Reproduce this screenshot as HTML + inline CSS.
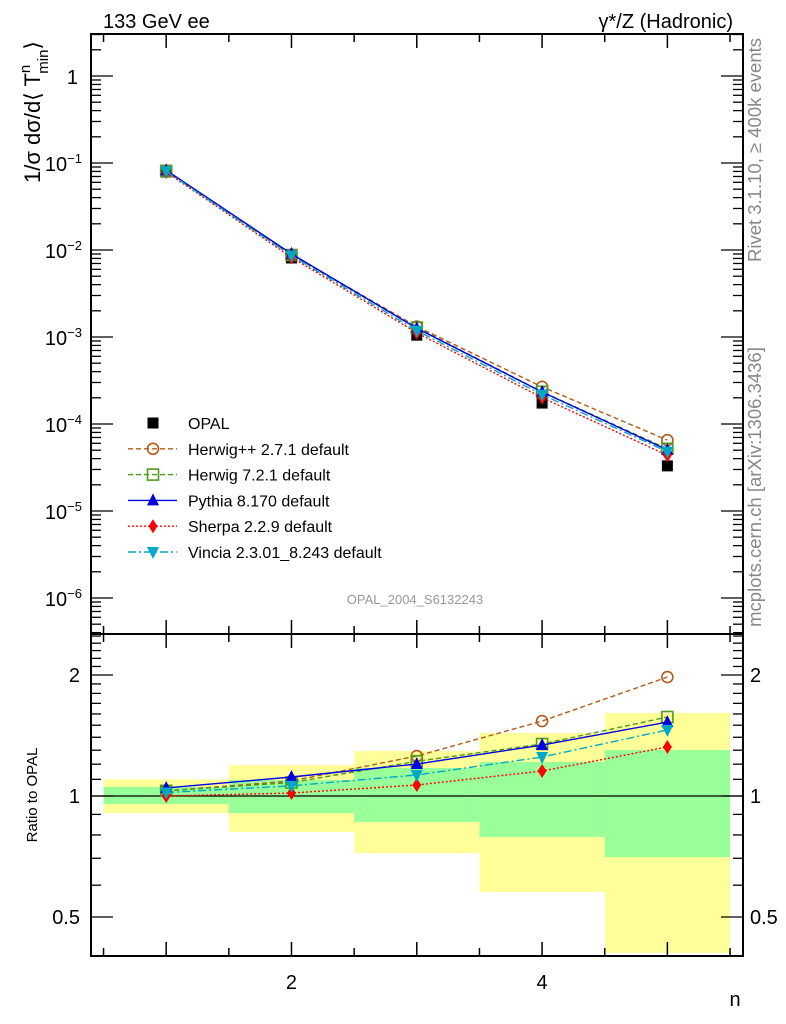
<!DOCTYPE html>
<html><head><meta charset="utf-8"><style>
html,body{margin:0;padding:0;background:#fff}
svg{display:block;font-family:"Liberation Sans",sans-serif}
</style></head><body>
<svg id="c" width="786" height="1024" viewBox="0 0 786 1024" xmlns="http://www.w3.org/2000/svg">
<text x="103" y="28" font-size="20">133 GeV ee</text>
<text x="733" y="28" font-size="20" text-anchor="end">γ*/Z (Hadronic)</text>
<text transform="translate(761,150) rotate(-90)" font-size="18.5" fill="#888" text-anchor="middle">Rivet 3.1.10, ≥ 400k events</text>
<text transform="translate(761,487) rotate(-90)" font-size="18.5" fill="#888" text-anchor="middle">mcplots.cern.ch [arXiv:1306.3436]</text>
<text x="415" y="604" font-size="13" fill="#999" text-anchor="middle">OPAL_2004_S6132243</text>
<text transform="translate(40,112) rotate(-90)" font-size="22" text-anchor="middle">1/σ dσ/d⟨ T<tspan font-size="15" dy="-10">n</tspan><tspan font-size="15" dy="18" dx="-9">min</tspan><tspan dy="-8">⟩</tspan></text>
<text transform="translate(37,795) rotate(-90)" font-size="15" text-anchor="middle">Ratio to OPAL</text>
<text x="735" y="1006" font-size="20" text-anchor="middle">n</text>
<g id="g"></g>
</svg>
<script>
const nVals=[1,2,3,4,5];
const opal=[0.0788,0.0081,0.00105,1.74e-4,3.3e-5];
const bandTotLo=[0.907,0.814,0.721,0.577,0.407];
const bandTotHi=[1.10,1.194,1.294,1.435,1.609];
const bandStatLo=[0.955,0.907,0.862,0.791,0.705];
const bandStatHi=[1.053,1.096,1.174,1.215,1.302];
const rHerwigPP=[1.03,1.09,1.257,1.536,1.976];
const rHerwig7=[1.03,1.08,1.22,1.347,1.572];
const rPythia=[1.047,1.115,1.201,1.339,1.527];
const rSherpa=[1.0,1.017,1.065,1.154,1.324];
const rVincia=[1.02,1.06,1.128,1.25,1.46];
const xTicks=[1,2,3,4,5];
const xTickLabels=["","2","","4",""];
const yTicksMain=[0,-1,-2,-3,-4,-5,-6];
const yTicksMainLabels=["1","10<tspan font-size='13' dy='-8'>−1</tspan>","10<tspan font-size='13' dy='-8'>−2</tspan>","10<tspan font-size='13' dy='-8'>−3</tspan>","10<tspan font-size='13' dy='-8'>−4</tspan>","10<tspan font-size='13' dy='-8'>−5</tspan>","10<tspan font-size='13' dy='-8'>−6</tspan>"];
const ratioTicks=[0.5,1,2];
const ratioTickLabels=["0.5","1","2"];

const L=91,R=743,T=34,M=634,B=956;
const X=n=>L+(n-0.4)*125.3;
const Y=v=>76-Math.log10(v)*87;
const RY=r=>796-Math.log10(r)*402;
const g=document.getElementById('g');
const NS="http://www.w3.org/2000/svg";
function el(t,a,p){const e=document.createElementNS(NS,t);for(const k in a)e.setAttribute(k,a[k]);(p||g).appendChild(e);return e;}

for(let i=0;i<nVals.length;i++){
 const x0=X(nVals[i]-0.5),x1=X(nVals[i]+0.5);
 const a=el('rect',{x:x0,y:RY(bandTotHi[i]),width:x1-x0,height:RY(bandTotLo[i])-RY(bandTotHi[i]),fill:'#ffff99'});
 
 
 const b=el('rect',{x:x0,y:RY(bandStatHi[i]),width:x1-x0,height:RY(bandStatLo[i])-RY(bandStatHi[i]),fill:'#99ff99'});
 
 
}
const one=el('line',{x1:L,x2:R,y1:RY(1),y2:RY(1),stroke:'#000','stroke-width':1.3});



for(const [y0,y1,nm] of [[T,M,'main-frame'],[M,B,'ratio-frame']]){
 const f=el('rect',{x:L,y:y0,width:R-L,height:y1-y0,fill:'none',stroke:'#000','stroke-width':2});
 
 
}
for(const [y0,y1] of [[T,M],[M,B]]){
 for(let k=0;k<=10;k++){const n=0.5+k*0.5;const x=X(n);const len=(n%1===0)?14:8;
  el('line',{x1:x,x2:x,y1:y1,y2:y1-len,stroke:'#000','stroke-width':1.5});
  el('line',{x1:x,x2:x,y1:y0,y2:y0+len,stroke:'#000','stroke-width':1.5});}
}
xTicks.forEach((n,i)=>{if(xTickLabels[i]){const t=el('text',{x:X(n),y:989,'font-size':20,'text-anchor':'middle'});t.textContent=xTickLabels[i];
 
 }});
for(let d=-7;d<=0;d++){for(let m=1;m<=9;m++){const v=m*Math.pow(10,d);const y=Y(v);if(y<T||y>M)continue;const len=m===1?22:10;
 el('line',{x1:L,x2:L+len,y1:y,y2:y,stroke:'#000','stroke-width':1.3});
 el('line',{x1:R,x2:R-len,y1:y,y2:y,stroke:'#000','stroke-width':1.3});}}
yTicksMain.forEach((d,i)=>{const t=el('text',{x:d===0?78:82,y:Y(Math.pow(10,d))+8,'font-size':20,'text-anchor':'end'});t.innerHTML=yTicksMainLabels[i];
 
 });
[0.4,0.5,0.6,0.7,0.8,0.9,1,1.1,1.2,1.3,1.4,1.5,1.6,1.7,1.8,1.9,2,2.1,2.2,2.3,2.4,2.5].forEach(r=>{const y=RY(r);if(y<M+2||y>B)return;const major=(r===0.5||r===1||r===2);const len=major?22:10;
 el('line',{x1:L,x2:L+len,y1:y,y2:y,stroke:'#000','stroke-width':1.3});
 el('line',{x1:R,x2:R-len,y1:y,y2:y,stroke:'#000','stroke-width':1.3});});
ratioTicks.forEach((r,i)=>{for(const [x,a] of [[80,'end'],[750,'start']]){const t=el('text',{x:x,y:RY(r)+7,'font-size':20,'text-anchor':a});t.textContent=ratioTickLabels[i];
 
 }});

const series=[
 {name:'herwigpp',label:'Herwig++ 2.7.1 default',r:rHerwigPP,c:'#b35a1a',dash:'5,3',m:'circle'},
 {name:'herwig7',label:'Herwig 7.2.1 default',r:rHerwig7,c:'#4c9c1c',dash:'5,3',m:'square'},
 {name:'pythia',label:'Pythia 8.170 default',r:rPythia,c:'#0000e0',dash:'',m:'tri'},
 {name:'sherpa',label:'Sherpa 2.2.9 default',r:rSherpa,c:'#ff0000',dash:'2,2',m:'diamond'},
 {name:'vincia',label:'Vincia 2.3.01_8.243 default',r:rVincia,c:'#00a8c8',dash:'8,3,2,3',m:'tridown'}];
function marker(type,x,y,c,p){
 if(type==='circle')return el('circle',{cx:x,cy:y,r:5.5,fill:'none',stroke:c,'stroke-width':1.6},p);
 if(type==='square')return el('rect',{x:x-5.5,y:y-5.5,width:11,height:11,fill:'none',stroke:c,'stroke-width':1.6},p);
 if(type==='tri')return el('polygon',{points:`${x},${y-7} ${x-6},${y+5} ${x+6},${y+5}`,fill:c},p);
 if(type==='tridown')return el('polygon',{points:`${x},${y+7} ${x-6},${y-5} ${x+6},${y-5}`,fill:c},p);
 if(type==='diamond')return el('polygon',{points:`${x},${y-7} ${x-4.5},${y} ${x},${y+7} ${x+4.5},${y}`,fill:c},p);
 if(type==='sq')return el('rect',{x:x-5.5,y:y-5.5,width:11,height:11,fill:c},p);
}
opal.forEach((v,i)=>{const m=marker('sq',X(nVals[i]),Y(v),'#000');
 
 });
series.forEach(s=>{
 const mainPts=nVals.map((n,i)=>X(n)+','+Y(opal[i]*s.r[i])).join(' ');
 const pl=el('polyline',{points:mainPts,fill:'none',stroke:s.c,'stroke-width':1.4,'stroke-dasharray':s.dash});
 
 
 const rPts=nVals.map((n,i)=>X(n)+','+RY(s.r[i])).join(' ');
 const rl=el('polyline',{points:rPts,fill:'none',stroke:s.c,'stroke-width':1.4,'stroke-dasharray':s.dash});
 
 
 nVals.forEach((n,i)=>{const a=marker(s.m,X(n),Y(opal[i]*s.r[i]),s.c);
  
  
  const b=marker(s.m,X(n),RY(s.r[i]),s.c);
  
  });
});
const lg=el('g',{});


const ly0=423,dy=25.8;
const e0=el('g',{},lg);


marker('sq',153,ly0,'#000',e0);
const t0=el('text',{x:188,y:ly0+6,'font-size':16},e0);t0.textContent='OPAL';
series.forEach((s,i)=>{const y=ly0+dy*(i+1);const e=el('g',{},lg);
 
 
 el('line',{x1:128,x2:177,y1:y,y2:y,stroke:s.c,'stroke-width':1.4,'stroke-dasharray':s.dash},e);
 marker(s.m,153,y,s.c,e);
 const t=el('text',{x:188,y:y+6,'font-size':16},e);t.textContent=s.label;});
</script>
</body></html>
